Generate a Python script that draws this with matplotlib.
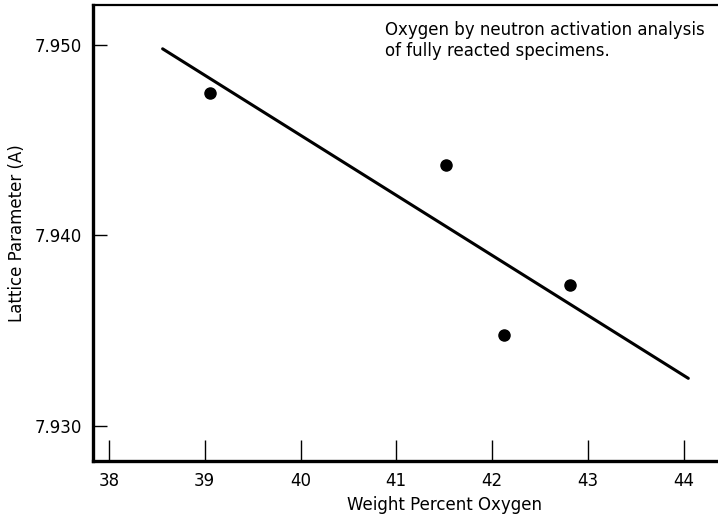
import matplotlib
matplotlib.use("Agg")
import matplotlib.pyplot as plt

# measured points: weight percent oxygen vs lattice parameter
oxygen_pct = [39.06, 41.52, 42.13, 42.81]
lattice_param = [7.9475, 7.9437, 7.9348, 7.9374]

# hand drawn fit line (end points)
fit_x = [38.56, 44.05]
fit_y = [7.9498, 7.9325]

x_ticks = [38, 39, 40, 41, 42, 43, 44]
y_ticks = [7.930, 7.940, 7.950]
y_tick_labels = ["7.930", "7.940", "7.950"]

note = "Oxygen by neutron activation analysis\nof fully reacted specimens."

plt.rcParams['font.family'] = ['Liberation Sans Narrow', 'DejaVu Sans']

fig = plt.figure(figsize=(7.18, 5.21), dpi=100)
ax = fig.add_axes([93 / 718, 1 - 461 / 521, 1 - 93 / 718, (461 - 5) / 521])

ax.plot(fit_x, fit_y, color="black", lw=2.2, solid_capstyle="round")
ax.plot(oxygen_pct, lattice_param, "o", color="black", markersize=8)

ax.set_xlim(37.833, 44.36)
ax.set_ylim(7.92816, 7.9521)

ax.set_xticks(x_ticks)
ax.set_yticks(y_ticks)
ax.set_yticklabels(y_tick_labels)
ax.tick_params(axis="both", direction="in", labelsize=12, color="black")
ax.tick_params(axis="x", length=15, width=1.0, pad=8)
ax.tick_params(axis="y", length=10, width=1.0, pad=8)

ax.spines["right"].set_visible(False)
ax.spines["left"].set_linewidth(2.4)
ax.spines["bottom"].set_linewidth(2.4)
ax.spines["top"].set_linewidth(1.6)

ax.set_xlabel("Weight Percent Oxygen", fontsize=12, x=0.562, labelpad=4)
ax.set_ylabel("Lattice Parameter (A)", fontsize=12, labelpad=6)

ax.text(0.467, 0.965, note, transform=ax.transAxes, fontsize=12,
        va="top", ha="left", linespacing=1.25)

fig.savefig("out.png", dpi=100)
